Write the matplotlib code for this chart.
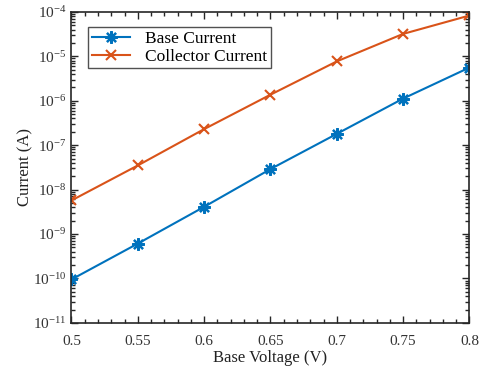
import math
import matplotlib
matplotlib.use("Agg")
import matplotlib.pyplot as plt
from matplotlib.ticker import LogLocator, MultipleLocator, FuncFormatter, NullFormatter

voltage = [0.5, 0.55, 0.6, 0.65, 0.7, 0.75, 0.8]
base_current = [9.5e-11, 6.1e-10, 4.1e-9, 2.9e-8, 1.8e-7, 1.12e-6, 5.6e-6]
collector_current = [5.7e-9, 3.5e-8, 2.3e-7, 1.37e-6, 7.7e-6, 3.2e-5, 8.3e-5]
x_ticks = [0.5, 0.55, 0.6, 0.65, 0.7, 0.75, 0.8]
x_tick_labels = ["0.5", "0.55", "0.6", "0.65", "0.7", "0.75", "0.8"]

plt.rcParams['font.family'] = ['Liberation Serif', 'DejaVu Serif']
plt.rcParams['mathtext.fontset'] = 'custom'
plt.rcParams['mathtext.rm'] = 'Liberation Serif'
plt.rcParams['mathtext.it'] = 'Liberation Serif:italic'

fig = plt.figure(figsize=(4.83, 3.72), dpi=100)
ax = fig.add_axes([0.148, 0.132, 0.824, 0.836])

ax.plot(voltage, base_current, color='#0072BD', marker=(8, 2, 0), markersize=9,
        markeredgewidth=1.6, linewidth=1.5, label='Base Current')
ax.plot(voltage, collector_current, color='#D95319', marker='x', markersize=7,
        markeredgewidth=1.5, linewidth=1.5, label='Collector Current')

ax.set_yscale('log')
ax.set_xlim(0.5, 0.8)
ax.set_ylim(1e-11, 1e-4)
ax.set_xticks(x_ticks)
ax.set_xticklabels(x_tick_labels)
ax.xaxis.set_minor_locator(MultipleLocator(0.01))
ax.yaxis.set_major_locator(LogLocator(base=10, numticks=20))
ax.yaxis.set_minor_locator(LogLocator(base=10, subs=range(2, 10), numticks=20))
ax.yaxis.set_minor_formatter(NullFormatter())

def fmt(v, pos):
    e = int(round(math.log10(v)))
    return r'10$^{%d}$' % e
ax.yaxis.set_major_formatter(FuncFormatter(fmt))

edge = '#262626'
for s in ax.spines.values():
    s.set_color(edge)
    s.set_linewidth(1.2)
ax.tick_params(which='both', direction='in', top=True, right=True, colors=edge,
               labelcolor='#333333', labelsize=11, width=1.0)
ax.tick_params(which='major', length=5)
ax.tick_params(which='minor', length=3)
ax.tick_params(axis='x', pad=9)

ax.set_xlabel('Base Voltage (V)', fontsize=12, color='#222222', labelpad=1)
ax.set_ylabel('Current (A)', fontsize=12, color='#222222', labelpad=0)

leg = ax.legend(loc='upper left', bbox_to_anchor=(0.041, 0.951), fontsize=12.5,
                frameon=True, fancybox=False, handlelength=2.2,
                borderpad=0.22, labelspacing=0.08, handletextpad=0.85,
                borderaxespad=0)
leg.get_frame().set_edgecolor(edge)
leg.get_frame().set_linewidth(1.0)

fig.savefig('out.png', dpi=100)
